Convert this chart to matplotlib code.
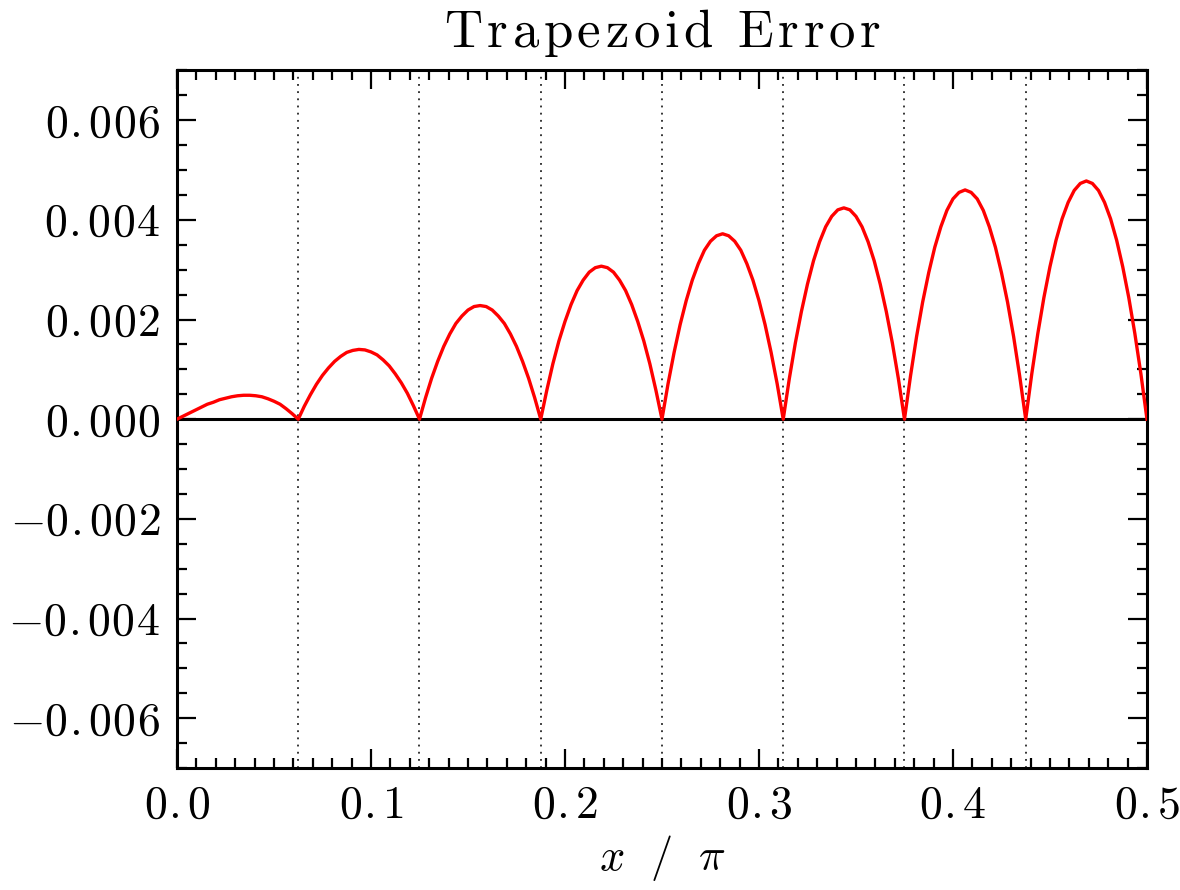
import matplotlib
matplotlib.use("Agg")
import matplotlib.pyplot as plt
import numpy as np
from matplotlib.ticker import MultipleLocator, FixedLocator

plt.rcParams['font.family'] = ['cmr10', 'DejaVu Serif']
plt.rcParams['mathtext.fontset'] = 'cm'

# interval edges in x/pi (8 trapezoid panels on [0, pi/2])
edges = [0.0, 0.0625, 0.125, 0.1875, 0.25, 0.3125, 0.375, 0.4375, 0.5]
# sample positions inside each panel (fraction of the panel width)
frac = [0.0, 0.05, 0.1, 0.15, 0.2, 0.25, 0.3, 0.35, 0.4, 0.45, 0.5,
        0.55, 0.6, 0.65, 0.7, 0.75, 0.8, 0.85, 0.9, 0.95, 1.0]

# error, one row per panel
arch1 = [0, .00006, .00012, .00018, .00024, .00030, .00034, .00039, .00042, .00045, .00047,
         .00048, .00048, .00047, .00045, .00041, .00036, .00030, .00021, .00011, 0]
arch2 = [0, .00026, .00049, .00070, .00088, .00103, .00116, .00126, .00134, .00138, .00140,
         .00139, .00135, .00129, .00119, .00107, .00091, .00073, .00052, .00027, 0]
arch3 = [0, .00043, .00082, .00116, .00146, .00171, .00192, .00207, .00219, .00226, .00228,
         .00226, .00219, .00207, .00192, .00171, .00146, .00116, .00082, .00043, 0]
arch4 = [0, .00058, .00111, .00157, .00196, .00230, .00258, .00279, .00295, .00304, .00307,
         .00304, .00295, .00279, .00258, .00230, .00196, .00157, .00111, .00058, 0]
arch5 = [0, .00071, .00134, .00190, .00238, .00279, .00312, .00339, .00357, .00368, .00372,
         .00368, .00357, .00339, .00312, .00279, .00238, .00190, .00134, .00071, 0]
arch6 = [0, .00081, .00153, .00216, .00271, .00318, .00356, .00386, .00407, .00420, .00424,
         .00420, .00407, .00386, .00356, .00318, .00271, .00216, .00153, .00081, 0]
arch7 = [0, .00087, .00166, .00235, .00294, .00345, .00386, .00419, .00442, .00455, .00460,
         .00455, .00442, .00419, .00386, .00345, .00294, .00235, .00166, .00087, 0]
arch8 = [0, .00091, .00172, .00244, .00306, .00359, .00402, .00435, .00459, .00473, .00478,
         .00473, .00459, .00435, .00402, .00359, .00306, .00244, .00172, .00091, 0]
arches = [arch1, arch2, arch3, arch4, arch5, arch6, arch7, arch8]

xticks = [0.0, 0.1, 0.2, 0.3, 0.4, 0.5]
xlabels = ['0.0', '0.1', '0.2', '0.3', '0.4', '0.5']
yticks = [-0.006, -0.004, -0.002, 0.0, 0.002, 0.004, 0.006]
ylabels = ['-0.006', '-0.004', '-0.002', '0.000', '0.002', '0.004', '0.006']


# letter-spaced mathtext, to look like the wide IDL lettering
def spaced(s, gap, dot_gap=None):
    if dot_gap is None:
        dot_gap = gap
    out = ''
    for i, ch in enumerate(s):
        out += r'\ ' if ch == ' ' else ch
        if i < len(s) - 1 and ch != '-':
            g = dot_gap if ch == '.' else gap
            out += '\\hspace{%g}' % g
    return '$\\mathrm{' + out + '}$'


fig = plt.figure(figsize=(11.8, 8.9), dpi=100)
ax = fig.add_axes([0.15, 0.137, 0.822, 0.784])

xs = []
ys = []
for i, row in enumerate(arches):
    w = edges[i + 1] - edges[i]
    for j, f in enumerate(frac):
        if i > 0 and j == 0:
            continue
        xs.append(edges[i] + f * w)
        ys.append(row[j])

# dotted panel boundaries
for e in edges[1:-1]:
    ax.axvline(e, color='black', linestyle=(0, (1.2, 3.5)), linewidth=1.1, zorder=1)

ax.axhline(0.0, color='black', linewidth=2.2, zorder=2)
ax.plot(xs, ys, color='red', linewidth=2.4, zorder=3, solid_joinstyle='round')

ax.set_xlim(0.0, 0.5)
ax.set_ylim(-0.007, 0.007)

ax.xaxis.set_major_locator(FixedLocator(xticks))
ax.xaxis.set_minor_locator(MultipleLocator(0.01))
ax.yaxis.set_major_locator(FixedLocator(yticks))
ax.yaxis.set_minor_locator(MultipleLocator(0.0005))

ax.set_xticklabels([spaced(t, 0.04, -0.04) for t in xlabels])
ax.set_yticklabels([spaced(t, 0.04, -0.04) for t in ylabels])

ax.tick_params(which='both', direction='in', top=True, right=True, width=1.6)
ax.tick_params(which='major', length=14, labelsize=33, pad=12)
ax.tick_params(which='minor', length=7)
for s in ax.spines.values():
    s.set_linewidth(2.2)

ax.set_xlabel(r'$x\ \ /\ \ \pi$', fontsize=32, labelpad=5)
ax.set_title(spaced('Trapezoid Error', 0.1), fontsize=38, pad=17)

fig.savefig('out.png', dpi=100)
